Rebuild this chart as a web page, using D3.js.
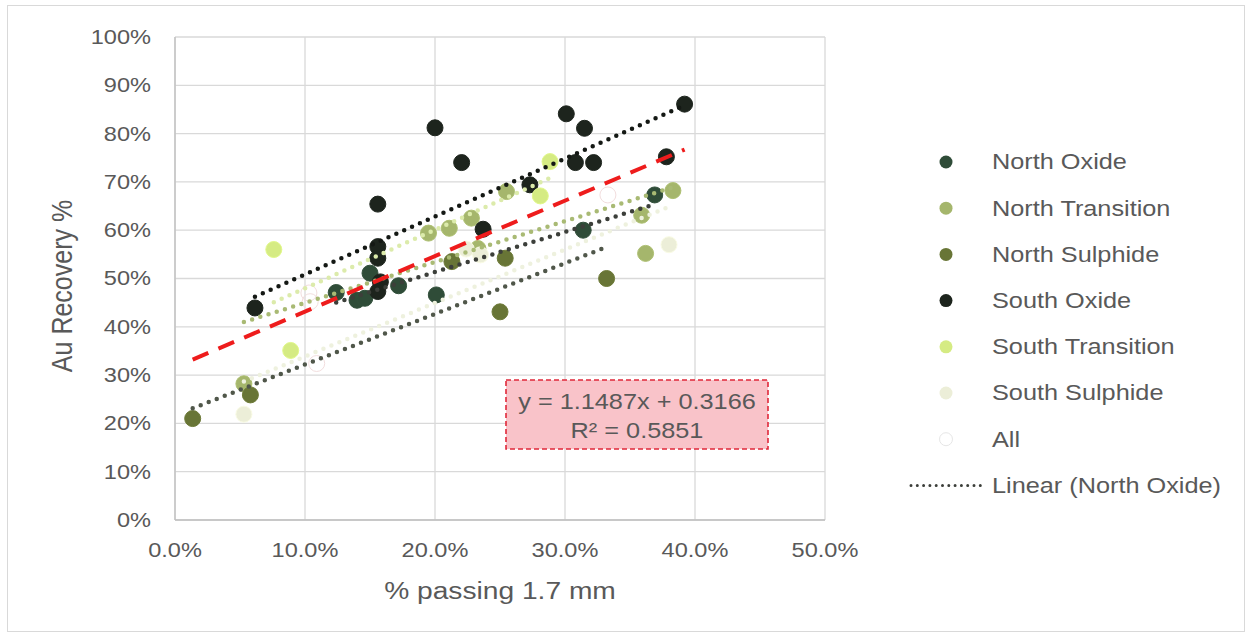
<!DOCTYPE html>
<html>
<head>
<meta charset="utf-8">
<script src="https://cdn.jsdelivr.net/npm/d3@7"></script>
<style>
  body { margin: 0; background: #fff; }
  text { font-family: "Liberation Sans", Arial, sans-serif; fill: #595959; }
</style>
</head>
<body>
<div id="chart"></div>
<script>
// values (fractions)
const seriesNames = ["North Oxide", "North Transition", "North Sulphide", "South Oxide", "South Transition", "South Sulphide", "All"];

const northOxideX = [0.124, 0.140, 0.146, 0.150, 0.172, 0.201, 0.314, 0.369];
const northOxideY = [0.471, 0.455, 0.459, 0.511, 0.485, 0.466, 0.600, 0.673];

const northTransitionX = [0.053, 0.195, 0.211, 0.228, 0.255, 0.233, 0.359, 0.362, 0.383];
const northTransitionY = [0.282, 0.594, 0.604, 0.625, 0.680, 0.562, 0.631, 0.552, 0.682];

const northSulphideX = [0.0136, 0.058, 0.213, 0.254, 0.250, 0.332];
const northSulphideY = [0.210, 0.259, 0.535, 0.542, 0.431, 0.500];

const southOxideX = [0.0615, 0.156, 0.156, 0.156, 0.158, 0.156, 0.200, 0.2205, 0.273, 0.237, 0.301, 0.308, 0.315, 0.322, 0.378, 0.392];
const southOxideY = [0.439, 0.654, 0.566, 0.542, 0.493, 0.473, 0.812, 0.740, 0.694, 0.602, 0.841, 0.740, 0.811, 0.740, 0.752, 0.861];

const southTransitionX = [0.076, 0.089, 0.2885, 0.281];
const southTransitionY = [0.560, 0.351, 0.742, 0.671];

const southSulphideX = [0.053, 0.224, 0.235, 0.380];
const southSulphideY = [0.219, 0.561, 0.549, 0.570];

const allX = [0.103, 0.104, 0.109, 0.333];
const allY = [0.470, 0.452, 0.324, 0.673];

// trendline of "All" as printed on the chart
const allSlope = 1.1487;
const allIntercept = 0.3166;
const allR2 = 0.5851;

const xTicks = [0, 0.1, 0.2, 0.3, 0.4, 0.5];
const yTicks = [0, 0.1, 0.2, 0.3, 0.4, 0.5, 0.6, 0.7, 0.8, 0.9, 1.0];

const width = 1252, height = 639;
const plotLeft = 175, plotRight = 825, plotTop = 37, plotBottom = 520;
const stretch = 1.15;

const colors = ["#2f4c38", "#a5b66c", "#687536", "#1d241d", "#d5eb83", "#eceed8", "#ffffff"];
const trendColors = ["#3c3f3a", "#a9ba74", "#50574a", "#141814", "#dcebab", "#eef1de"];

const svg = d3.select("#chart").append("svg")
    .attr("width", width)
    .attr("height", height);

svg.append("rect")
    .attr("x", 7.5).attr("y", 5.5)
    .attr("width", 1237).attr("height", 626)
    .attr("fill", "#fff")
    .attr("stroke", "#d9d9d9");

const x = d3.scaleLinear().domain([0, 0.5]).range([plotLeft, plotRight]);
const y = d3.scaleLinear().domain([0, 1]).range([plotBottom, plotTop]);

// stretched text helper (the original is a bit wide)
function label(g, tx, ty, str, size, anchor, rot) {
    return g.append("text")
        .attr("transform", `translate(${tx},${ty}) scale(${stretch},1)` + (rot ? ` rotate(${rot})` : ""))
        .attr("text-anchor", anchor)
        .attr("dominant-baseline", "central")
        .style("font-size", size + "px")
        .text(str);
}

// gridlines
svg.append("g").selectAll("line").data(yTicks).join("line")
    .attr("x1", plotLeft).attr("x2", plotRight)
    .attr("y1", d => y(d)).attr("y2", d => y(d))
    .attr("stroke", "#d9d9d9").attr("stroke-width", 1.3);
svg.append("g").selectAll("line").data(xTicks).join("line")
    .attr("x1", d => x(d)).attr("x2", d => x(d))
    .attr("y1", plotTop).attr("y2", plotBottom)
    .attr("stroke", "#d9d9d9").attr("stroke-width", 1.3);

// axes lines
svg.append("line").attr("x1", plotLeft).attr("x2", plotLeft).attr("y1", plotTop).attr("y2", plotBottom)
    .attr("stroke", "#bfbfbf").attr("stroke-width", 1.3);
svg.append("line").attr("x1", plotLeft).attr("x2", plotRight).attr("y1", plotBottom).attr("y2", plotBottom)
    .attr("stroke", "#bfbfbf").attr("stroke-width", 1.3);

// tick labels
const yFmt = d3.format(".0%");
const xFmt = d3.format(".1%");
const tickG = svg.append("g");
yTicks.forEach(t => label(tickG, 151, y(t), yFmt(t), 20.5, "end"));
xTicks.forEach(t => label(tickG, x(t), 550, xFmt(t), 20.5, "middle"));

// axis titles
label(svg, 500, 591, "% passing 1.7 mm", 24.5, "middle");
label(svg, 62, 286, "Au Recovery %", 25, "middle", -90);

// points
const seriesX = [northOxideX, northTransitionX, northSulphideX, southOxideX, southTransitionX, southSulphideX, allX];
const seriesY = [northOxideY, northTransitionY, northSulphideY, southOxideY, southTransitionY, southSulphideY, allY];

const pointG = svg.append("g");
seriesX.forEach((xs, i) => {
    pointG.append("g").selectAll("circle")
        .data(xs.map((v, k) => [v, seriesY[i][k]]))
        .join("circle")
        .attr("cx", d => x(d[0]))
        .attr("cy", d => y(d[1]))
        .attr("r", 8)
        .attr("fill", colors[i])
        .attr("fill-opacity", i === 6 ? 0 : 1)
        .attr("stroke", i === 6 ? "#f2dede" : d3.color(colors[i]).brighter(0.15))
        .attr("stroke-width", 1);
});

// least squares trendline for each series
function linReg(xs, ys) {
    const mx = d3.mean(xs), my = d3.mean(ys);
    const sxy = d3.sum(xs, (v, k) => (v - mx) * (ys[k] - my));
    const sxx = d3.sum(xs, v => (v - mx) * (v - mx));
    const m = sxy / sxx;
    return { m: m, b: my - m * mx };
}

const trendG = svg.append("g");
for (let i = 0; i < 6; i++) {
    const xs = seriesX[i], ys = seriesY[i];
    const r = linReg(xs, ys);
    const x0 = d3.min(xs), x1 = d3.max(xs);
    trendG.append("line")
        .attr("x1", x(x0)).attr("y1", y(r.m * x0 + r.b))
        .attr("x2", x(x1)).attr("y2", y(r.m * x1 + r.b))
        .attr("stroke", trendColors[i])
        .attr("stroke-width", 4.5)
        .attr("stroke-linecap", "round")
        .attr("stroke-dasharray", "0,8.6");
}

// red dashed trendline of all points
const everyX = seriesX.slice(0, 6).flat();
const ax0 = d3.min(everyX), ax1 = d3.max(everyX);
trendG.append("line")
    .attr("x1", x(ax0)).attr("y1", y(allSlope * ax0 + allIntercept))
    .attr("x2", x(ax1)).attr("y2", y(allSlope * ax1 + allIntercept))
    .attr("stroke", "#ee1c1c")
    .attr("stroke-width", 4)
    .attr("stroke-dasharray", "17,11");

// equation box
svg.append("rect")
    .attr("x", 506).attr("y", 380)
    .attr("width", 262).attr("height", 69)
    .attr("fill", "#f9c3c9")
    .attr("stroke", "#e0283a")
    .attr("stroke-width", 1.6)
    .attr("stroke-dasharray", "5,3");
label(svg, 637, 402, `y = ${allSlope}x + ${allIntercept}`, 22, "middle");
label(svg, 637, 431, `R² = ${allR2}`, 22, "middle");

// legend
const legendNames = seriesNames.concat(["Linear (North Oxide)"]);
const legendG = svg.append("g");
legendNames.forEach((name, i) => {
    const ly = 162 + i * 46.2;
    if (i < 7) {
        legendG.append("circle")
            .attr("cx", 946).attr("cy", ly).attr("r", 6.5)
            .attr("fill", colors[i])
            .attr("stroke", i === 6 ? "#e6e6e6" : "none");
    } else {
        legendG.append("line")
            .attr("x1", 911).attr("x2", 984).attr("y1", ly).attr("y2", ly)
            .attr("stroke", trendColors[0])
            .attr("stroke-width", 3)
            .attr("stroke-linecap", "round")
            .attr("stroke-dasharray", "0,6.3");
    }
    label(legendG, 992, ly, name, 22, "start");
});
</script>
</body>
</html>
